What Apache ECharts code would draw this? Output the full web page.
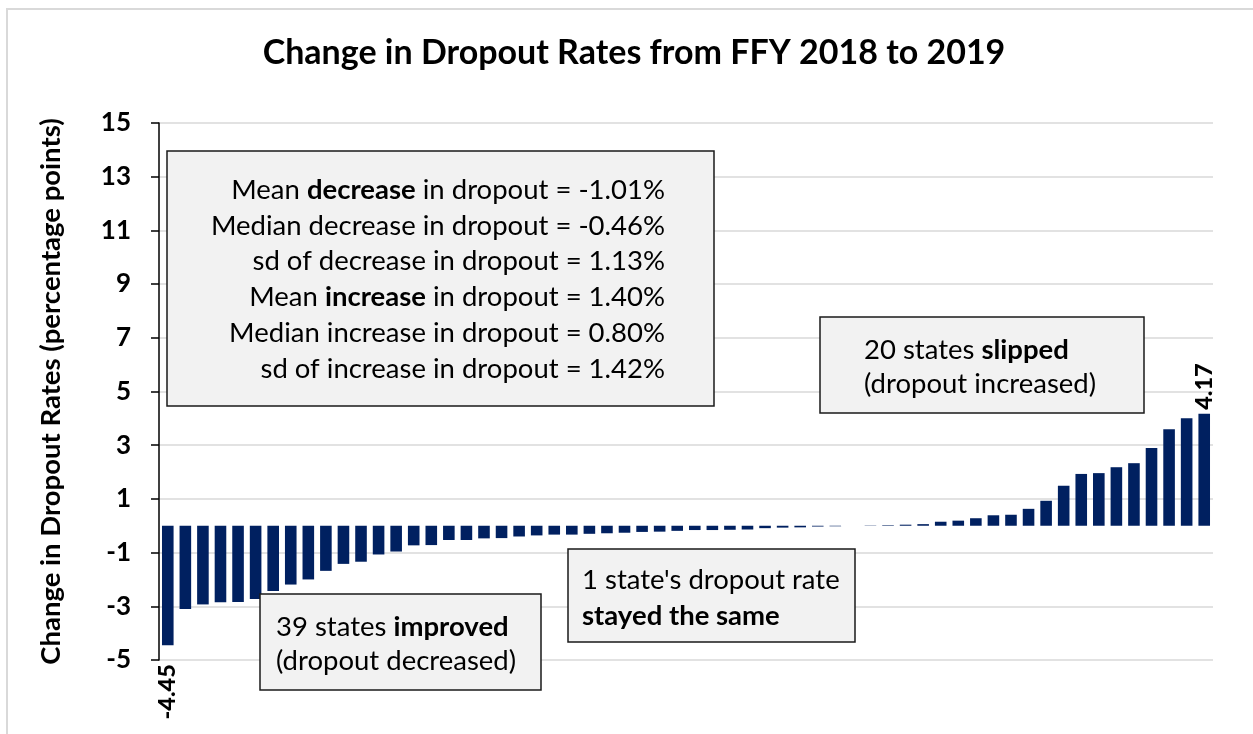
<!DOCTYPE html>
<html>
<head>
<meta charset="utf-8">
<title>Change in Dropout Rates from FFY 2018 to 2019</title>
<script src="https://cdn.jsdelivr.net/npm/echarts@6/dist/echarts.min.js"></script>
<style>
  html, body { margin: 0; padding: 0; background: #fff; }
  #chart { width: 1253px; height: 734px; }
</style>
</head>
<body>
<div id="chart"></div>
<script>
// change per state, sorted (percentage points)
const changes = [
  -4.45, -3.10, -2.93, -2.85, -2.84, -2.73, -2.43, -2.19, -2.00, -1.68,
  -1.42, -1.34, -1.07, -0.96, -0.73, -0.72, -0.53, -0.53, -0.47, -0.46,
  -0.40, -0.36, -0.33, -0.33, -0.30, -0.28, -0.26, -0.23, -0.22, -0.19,
  -0.16, -0.16, -0.15, -0.14, -0.09, -0.07, -0.06, -0.03, -0.02, 0,
  0.01, 0.02, 0.04, 0.06, 0.15, 0.19, 0.28, 0.39, 0.41, 0.63,
  0.93, 1.49, 1.93, 1.96, 2.18, 2.33, 2.90, 3.59, 4.00, 4.17
]
const states = changes.map((_, i) => 'State ' + (i + 1))
const labelledIdx = [0, changes.length - 1]

const statLines = [
  ['Mean ', 'decrease', ' in dropout = -1.01%'],
  ['Median decrease in dropout = -0.46%', '', ''],
  ['sd of decrease in dropout = 1.13%', '', ''],
  ['Mean ', 'increase', ' in dropout = 1.40%'],
  ['Median increase in dropout = 0.80%', '', ''],
  ['sd of increase in dropout = 1.42%', '', '']
]

const FONT = 'Lato, "Open Sans", sans-serif'
const BAR = '#002060'
const TXT = 27.5

const chart = echarts.init(document.getElementById('chart'))

function barData() {
  return changes.map((v, i) => {
    if (!labelledIdx.includes(i)) return v
    const neg = v < 0
    return {
      value: v,
      label: {
        show: true,
        position: neg ? 'bottom' : 'top',
        distance: neg ? 19 : 4,
        rotate: 90,
        align: neg ? 'right' : 'left',
        verticalAlign: 'middle',
        color: '#000',
        fontFamily: FONT,
        fontWeight: 900,
        fontSize: 23.5
      }
    }
  })
}

function richLine(parts) {
  const [a, b, c] = parts
  let t = '{n|' + a + '}'
  if (b) t += '{b|' + b + '}'
  if (c) t += '{n|' + c + '}'
  return t
}

const richStyles = {
  n: { fontFamily: FONT, fontSize: TXT, color: '#000' },
  b: { fontFamily: FONT, fontSize: TXT, fontWeight: 'bold', color: '#000' }
}

function box(x, y, w, h) {
  return {
    type: 'rect',
    z: 100,
    shape: { x, y, width: w, height: h },
    style: { fill: '#f2f2f2', stroke: '#1a1a1a', lineWidth: 1.5 }
  }
}

function label(x, y, text, align) {
  return {
    type: 'text',
    z: 101,
    x,
    y,
    style: {
      text,
      rich: richStyles,
      align: align || 'left',
      verticalAlign: 'middle'
    }
  }
}

const graphics = [
  {
    type: 'rect',
    z: -10,
    shape: { x: 7, y: 9, width: 1300, height: 800 },
    style: { fill: 'none', stroke: '#d9d9d9', lineWidth: 2 }
  },
  box(167, 151, 547, 255),
  ...statLines.map((p, i) => label(665, 190 + i * 35.8, richLine(p), 'right')),
  box(820, 317, 324, 96),
  label(864, 350, '{n|20 states }{b|slipped}'),
  label(864, 384, '{n|(dropout increased)}'),
  box(568, 549, 287, 93),
  label(582, 580, "{n|1 state's dropout rate}"),
  label(582, 616, '{b|stayed the same}'),
  box(260, 594, 281, 96),
  label(276, 627, '{n|39 states }{b|improved}'),
  label(276, 661, '{n|(dropout decreased)}')
]

chart.setOption({
  backgroundColor: '#fff',
  animation: false,
  title: {
    text: 'Change in Dropout Rates from FFY 2018 to 2019',
    left: 629,
    top: 31,
    textAlign: 'center',
    textStyle: { fontFamily: FONT, fontSize: 34, fontWeight: 'bold', color: '#000' }
  },
  grid: { left: 159, right: 40, top: 123, bottom: 74 },
  xAxis: {
    type: 'category',
    data: states,
    axisLine: { show: false },
    axisTick: { show: false },
    axisLabel: { show: false }
  },
  yAxis: {
    type: 'value',
    min: -5,
    max: 15,
    interval: 2,
    name: 'Change in Dropout Rates (percentage points)',
    nameLocation: 'middle',
    nameGap: 94,
    nameTextStyle: { fontFamily: FONT, fontSize: 27.5, fontWeight: 'bold', color: '#000' },
    axisLine: { show: true, lineStyle: { color: '#000', width: 1.5 } },
    axisTick: { show: true, length: 8, lineStyle: { color: '#000', width: 1.5 } },
    axisLabel: { margin: 28, fontFamily: FONT, fontSize: 26, fontWeight: 'bold', color: '#000' },
    splitLine: { lineStyle: { color: '#d9d9d9', width: 1.5 } }
  },
  series: [
    {
      type: 'bar',
      data: barData(),
      barCategoryGap: '34%',
      itemStyle: { color: BAR },
      label: { show: false }
    }
  ],
  graphic: graphics
})
</script>
</body>
</html>
